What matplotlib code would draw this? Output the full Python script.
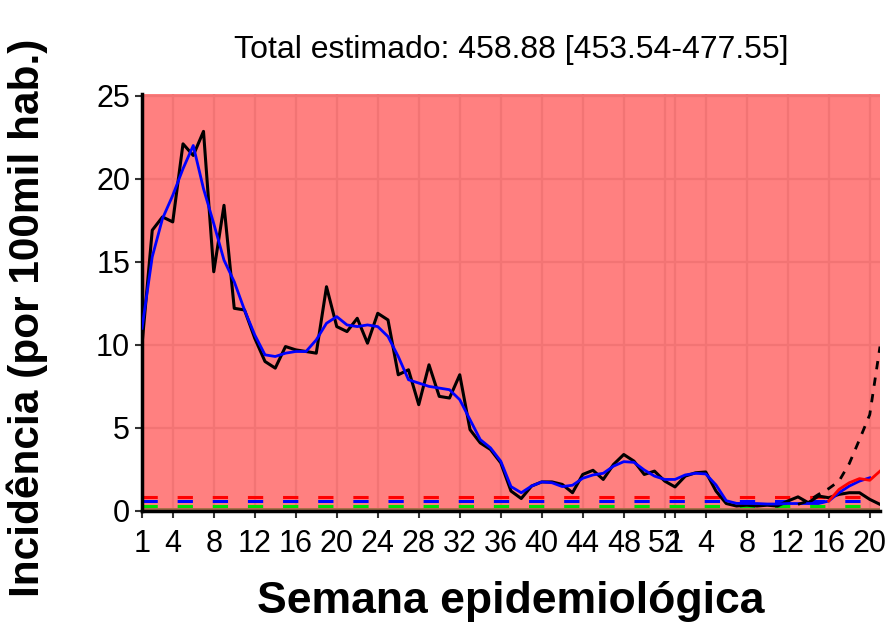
import matplotlib
matplotlib.use("Agg")
import matplotlib.pyplot as plt
import numpy as np

# ── Data ─────────────────────────────────────────────────────────
tick_weeks = [1, 4, 8, 12, 16, 20, 24, 28, 32, 36, 40, 44, 48, 52,
              1, 4, 8, 12, 16, 20]
tick_idx = [0, 3, 7, 11, 15, 19, 23, 27, 31, 35, 39, 43, 47, 51,
            52, 55, 59, 63, 67, 71]

observed = [10.0, 16.9, 17.7, 17.4, 22.1, 21.4, 22.85, 14.4, 18.4, 12.2,
            12.1, 10.4, 9.0, 8.6, 9.9, 9.7, 9.6, 9.5, 13.5, 11.1,
            10.8, 11.6, 10.1, 11.9, 11.5, 8.2, 8.5, 6.4, 8.8, 6.9,
            6.8, 8.2, 4.9, 4.1, 3.7, 2.9, 1.2, 0.75, 1.5, 1.75,
            1.75, 1.6, 1.1, 2.2, 2.45, 1.9, 2.8, 3.4, 3.0, 2.2,
            2.4, 1.8, 1.45, 2.1, 2.3, 2.35, 1.2, 0.45, 0.3, 0.35,
            0.3, 0.35, 0.3, 0.6, 0.85, 0.5, 0.9, 0.8, 1.0, 1.1,
            1.1, 0.7, 0.4]

smoothed = [11.0, 15.3, 17.6, 19.0, 20.6, 22.0, 19.4, 17.3, 15.1, 13.8,
            12.1, 10.6, 9.4, 9.3, 9.5, 9.6, 9.6, 10.3, 11.3, 11.7,
            11.2, 11.1, 11.2, 11.1, 10.5, 9.3, 7.9, 7.7, 7.5, 7.4,
            7.3, 6.7, 5.5, 4.3, 3.8, 3.0, 1.47, 1.1, 1.5, 1.75,
            1.7, 1.47, 1.55, 1.97, 2.17, 2.27, 2.7, 2.97, 2.93, 2.47,
            2.1, 1.9, 1.9, 2.17, 2.27, 2.23, 1.57, 0.62, 0.46, 0.45,
            0.45, 0.42, 0.42, 0.45, 0.45, 0.45, 0.45, 0.6, 1.1, 1.5,
            1.8, 2.0]

nowcast_start = 67
nowcast = [0.6, 1.3, 1.7, 1.95, 1.85, 2.4]
upper_start = 64
upper = [0.4, 0.6, 1.0, 1.35, 1.8, 2.85, 4.3, 5.8, 9.9]

thr_red = 0.84
thr_blue = 0.62
thr_green = 0.3

subtitle = "Total estimado: 458.88 [453.54-477.55]"
title = "SRAG - SP: RA Noroeste"

# ── Plot ─────────────────────────────────────────────────────────
sans = ["Liberation Sans", "DejaVu Sans"]

fig = plt.figure(figsize=(8.91, 6.36), dpi=100)
ax = fig.add_axes([142 / 891, 1 - 511 / 636, (880 - 142) / 891, (511 - 94) / 636])

ax.set_facecolor("#ff8080")
ax.set_xlim(0, 72)
ax.set_ylim(0, 25.1)
ax.grid(True, color="#f27474", lw=1.6, zorder=0)
ax.set_axisbelow(True)

# thin band at the bottom
ax.axhspan(0, 0.18, color="#a8704a", lw=0, zorder=1)

dash = (0, (5, 6.5))
ax.axhline(thr_red, color="#ff0000", lw=2.2, ls=dash, zorder=2)
ax.axhline(thr_blue, color="#0000ff", lw=2.2, ls=dash, zorder=2)
ax.axhline(thr_green, color="#00dd00", lw=2.2, ls=dash, zorder=2)

x_obs = np.arange(len(observed))
ax.plot(x_obs, observed, color="black", lw=2.2, zorder=3)
ax.plot(np.arange(len(smoothed)), smoothed, color="#0000ff", lw=2.0, zorder=4)
ax.plot(np.arange(nowcast_start, nowcast_start + len(nowcast)), nowcast,
        color="#ff0000", lw=2.0, zorder=4)
ax.plot(np.arange(upper_start, upper_start + len(upper)), upper,
        color="black", lw=2.0, ls=(0, (3, 3)), zorder=4)

for s in ["top", "right"]:
    ax.spines[s].set_visible(False)
for s in ["left", "bottom"]:
    ax.spines[s].set_linewidth(2.5)
    ax.spines[s].set_color("black")

ax.set_yticks([0, 5, 10, 15, 20, 25])
ax.set_xticks(tick_idx)
ax.set_xticklabels([str(w) for w in tick_weeks])
ax.tick_params(axis="both", length=5, width=1.5, color="#333333",
               labelsize=22, labelcolor="black")
ax.tick_params(axis="x", pad=8)
for lab in ax.get_xticklabels() + ax.get_yticklabels():
    lab.set_family(sans)

ax.set_xlabel("Semana epidemiológica", fontsize=32, fontweight="bold",
              family=sans, labelpad=16)
ax.set_ylabel("Incidência (por 100mil hab.)", fontsize=30.5, fontweight="bold",
              family=sans)
ax.yaxis.set_label_coords(-0.128, 0.463)

fig.text(511 / 891, 1 - 50 / 636, subtitle, ha="center", va="center",
         fontsize=23, family=sans)
fig.text(511 / 891, 1 - 8 / 636, title, ha="center", va="bottom",
         fontsize=28, fontweight="bold", family=sans)

fig.savefig("out.png", dpi=100)
